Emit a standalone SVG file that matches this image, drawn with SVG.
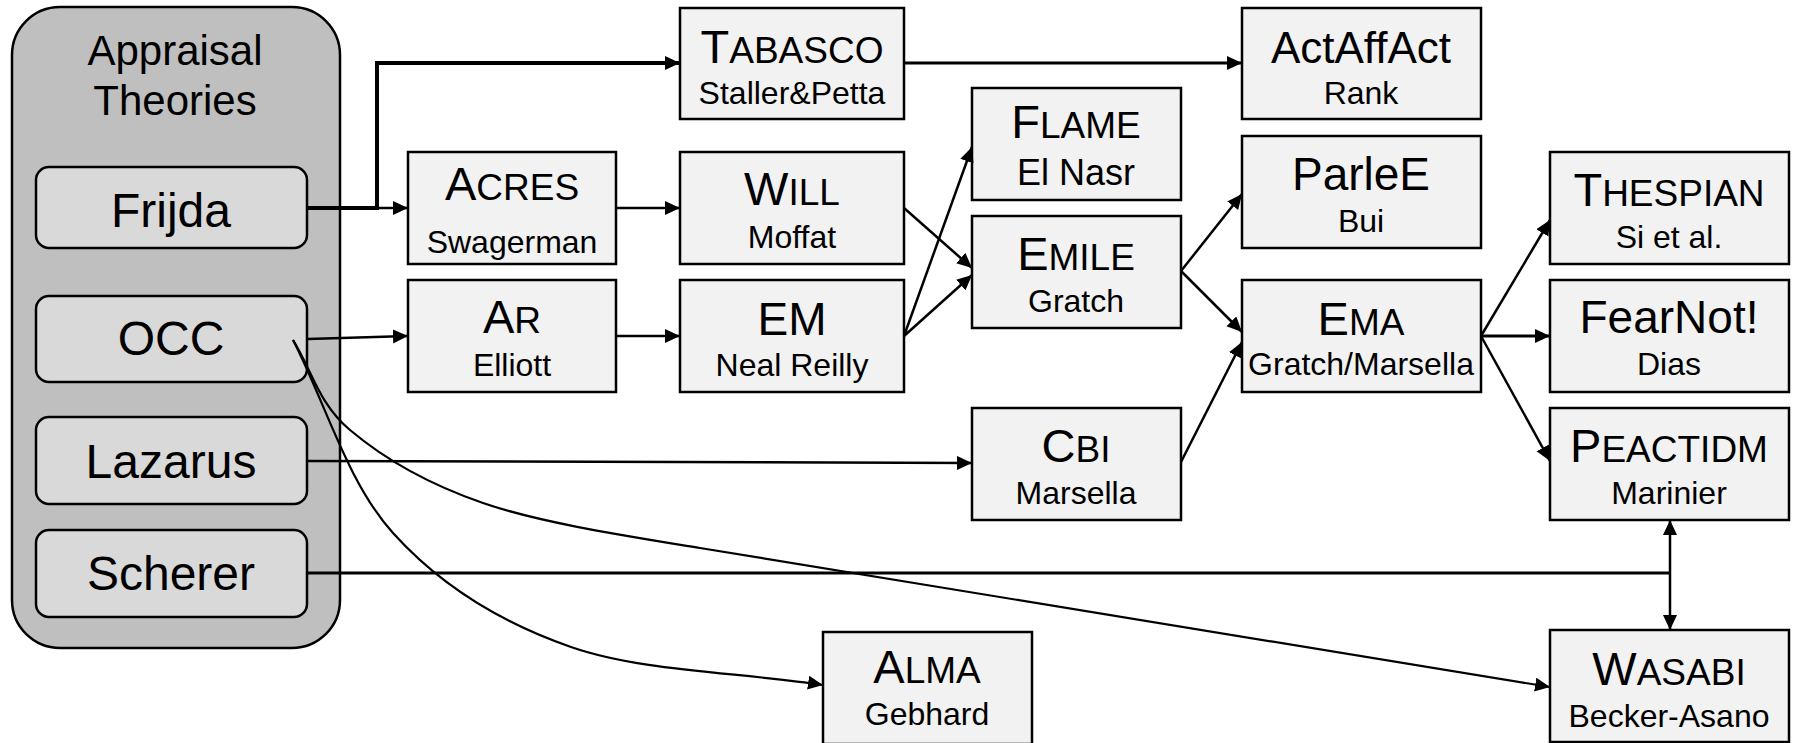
<svg xmlns="http://www.w3.org/2000/svg" width="1798" height="743" viewBox="0 0 1798 743">
  <style>
    text { font-family: "Liberation Sans", Arial, sans-serif; fill: #000; text-anchor: middle; }
    .group { fill: #bfbfbf; stroke: #000; stroke-width: 2.5; }
    .theory { fill: #d9d9d9; stroke: #000; stroke-width: 2.5; }
    .node { fill: #f2f2f2; stroke: #000; stroke-width: 2.5; }
    .head { font-size: 42px; }
    .tname { font-size: 48px; }
    .title { font-size: 47px; }
    .sc { font-size: 37px; }
    .sub { font-size: 32px; }
    .edge { fill: none; stroke: #000; stroke-width: 2.5; }
    .thick { stroke-width: 4; }
    .mid { stroke-width: 3; }
    .curve { stroke-width: 2.2; }
  </style>
  <defs>
    <marker id="arrow" markerUnits="userSpaceOnUse" markerWidth="16" markerHeight="16" refX="15" refY="7" orient="auto">
      <path d="M0,0 L15,7 L0,14 z" fill="#000"/>
    </marker>
    <marker id="arrow-start" markerUnits="userSpaceOnUse" markerWidth="16" markerHeight="16" refX="0" refY="7" orient="auto">
      <path d="M15,0 L0,7 L15,14 z" fill="#000"/>
    </marker>
  </defs>

  <!-- appraisal theories panel -->
  <g id="appraisal-theories">
    <rect class="group" x="12" y="7" width="328" height="641" rx="48" ry="48"/>
    <text class="head" x="175" y="65">Appraisal</text>
    <text class="head" x="175" y="115">Theories</text>
  </g>
  <g id="frijda">
    <rect class="theory" x="36" y="167" width="271" height="81" rx="13"/>
    <text class="tname" x="171" y="227">Frijda</text>
  </g>
  <g id="occ">
    <rect class="theory" x="36" y="296" width="271" height="86" rx="13"/>
    <text class="tname" x="171" y="355">OCC</text>
  </g>
  <g id="lazarus">
    <rect class="theory" x="36" y="417" width="271" height="87" rx="13"/>
    <text class="tname" x="171" y="478">Lazarus</text>
  </g>
  <g id="scherer">
    <rect class="theory" x="36" y="530" width="271" height="87" rx="13"/>
    <text class="tname" x="171" y="590">Scherer</text>
  </g>

  <!-- architectures -->
  <g id="tabasco">
    <rect class="node" x="680" y="8" width="224" height="111"/>
    <text class="title" x="792" y="63">T<tspan class="sc">ABASCO</tspan></text>
    <text class="sub" x="792" y="104">Staller&amp;Petta</text>
  </g>
  <g id="actaffact">
    <rect class="node" x="1242" y="8" width="239" height="111"/>
    <text class="title" x="1361" y="63" style="font-size:44px">ActAffAct</text>
    <text class="sub" x="1361" y="104">Rank</text>
  </g>
  <g id="acres">
    <rect class="node" x="408" y="152" width="208" height="112"/>
    <text class="title" x="512" y="200">A<tspan class="sc">CRES</tspan></text>
    <text class="sub" x="512" y="253">Swagerman</text>
  </g>
  <g id="will">
    <rect class="node" x="680" y="152" width="224" height="112"/>
    <text class="title" x="792" y="205">W<tspan class="sc">ILL</tspan></text>
    <text class="sub" x="792" y="248">Moffat</text>
  </g>
  <g id="flame">
    <rect class="node" x="972" y="88" width="209" height="112"/>
    <text class="title" x="1076" y="138">F<tspan class="sc">LAME</tspan></text>
    <text class="sub" x="1076" y="185" style="font-size:36px">El Nasr</text>
  </g>
  <g id="emile">
    <rect class="node" x="972" y="216" width="209" height="112"/>
    <text class="title" x="1076" y="270">E<tspan class="sc">MILE</tspan></text>
    <text class="sub" x="1076" y="312">Gratch</text>
  </g>
  <g id="parlee">
    <rect class="node" x="1242" y="136" width="239" height="112"/>
    <text class="title" x="1361" y="190" style="font-size:46px">ParleE</text>
    <text class="sub" x="1361" y="232">Bui</text>
  </g>
  <g id="thespian">
    <rect class="node" x="1550" y="152" width="239" height="112"/>
    <text class="title" x="1669" y="206">T<tspan class="sc">HESPIAN</tspan></text>
    <text class="sub" x="1669" y="248">Si et al.</text>
  </g>
  <g id="ar">
    <rect class="node" x="408" y="280" width="208" height="112"/>
    <text class="title" x="512" y="333">A<tspan class="sc">R</tspan></text>
    <text class="sub" x="512" y="376">Elliott</text>
  </g>
  <g id="em">
    <rect class="node" x="680" y="280" width="224" height="112"/>
    <text class="title" x="792" y="335" style="font-size:46px">EM</text>
    <text class="sub" x="792" y="376">Neal Reilly</text>
  </g>
  <g id="ema">
    <rect class="node" x="1242" y="280" width="239" height="112"/>
    <text class="title" x="1361" y="335">E<tspan class="sc">MA</tspan></text>
    <text class="sub" x="1361" y="375">Gratch/Marsella</text>
  </g>
  <g id="fearnot">
    <rect class="node" x="1550" y="280" width="239" height="112"/>
    <text class="title" x="1669" y="333" style="font-size:46px">FearNot!</text>
    <text class="sub" x="1669" y="375">Dias</text>
  </g>
  <g id="cbi">
    <rect class="node" x="972" y="408" width="209" height="112"/>
    <text class="title" x="1076" y="462">C<tspan class="sc">BI</tspan></text>
    <text class="sub" x="1076" y="504">Marsella</text>
  </g>
  <g id="peactidm">
    <rect class="node" x="1550" y="408" width="239" height="112"/>
    <text class="title" x="1669" y="462">P<tspan class="sc">EACTIDM</tspan></text>
    <text class="sub" x="1669" y="504">Marinier</text>
  </g>
  <g id="alma">
    <rect class="node" x="823" y="632" width="209" height="112"/>
    <text class="title" x="927" y="683">A<tspan class="sc">LMA</tspan></text>
    <text class="sub" x="927" y="725">Gebhard</text>
  </g>
  <g id="wasabi">
    <rect class="node" x="1550" y="630" width="239" height="112"/>
    <text class="title" x="1669" y="685">W<tspan class="sc">ASABI</tspan></text>
    <text class="sub" x="1669" y="727">Becker-Asano</text>
  </g>

  <!-- influence links -->
  <g id="connectors">
    <path class="edge thick" d="M307,208 H377 V63 H680" marker-end="url(#arrow)"/>
    <path class="edge" d="M377,208 H408" marker-end="url(#arrow)"/>
    <path class="edge mid" d="M904,63 H1242" marker-end="url(#arrow)"/>
    <path class="edge" d="M616,208 H680" marker-end="url(#arrow)"/>
    <path class="edge" d="M308,339 L408,336" marker-end="url(#arrow)"/>
    <path class="edge" d="M616,336 H680" marker-end="url(#arrow)"/>
    <path class="edge" d="M904,208 L972,268" marker-end="url(#arrow)"/>
    <path class="edge" d="M904,336 L972,147" marker-end="url(#arrow)"/>
    <path class="edge" d="M904,336 L972,275" marker-end="url(#arrow)"/>
    <path class="edge" d="M1181,271 L1242,194" marker-end="url(#arrow)"/>
    <path class="edge" d="M1181,271 L1242,332" marker-end="url(#arrow)"/>
    <path class="edge" d="M1181,462 L1242,342" marker-end="url(#arrow)"/>
    <path class="edge" d="M307,461 L972,463" marker-end="url(#arrow)"/>
    <path class="edge" d="M1481,336 L1550,220" marker-end="url(#arrow)"/>
    <path class="edge mid" d="M1481,336 H1550" marker-end="url(#arrow)"/>
    <path class="edge" d="M1481,336 L1550,461" marker-end="url(#arrow)"/>
    <path class="edge mid" d="M307,573 H1670"/>
    <path class="edge" d="M1670,520 V630" marker-start="url(#arrow-start)" marker-end="url(#arrow)"/>
    <path class="edge curve" d="M293,340 C312,370 318,403 350,430 C382,457 425,483 483,503 C541,523 627,536 700,548 L1550,687" marker-end="url(#arrow)"/>
    <path class="edge curve" d="M293,340 C326,404 347,482 393,533 C439,584 499,622 571,647 C643,672 739,672 823,685" marker-end="url(#arrow)"/>
  </g>
</svg>
